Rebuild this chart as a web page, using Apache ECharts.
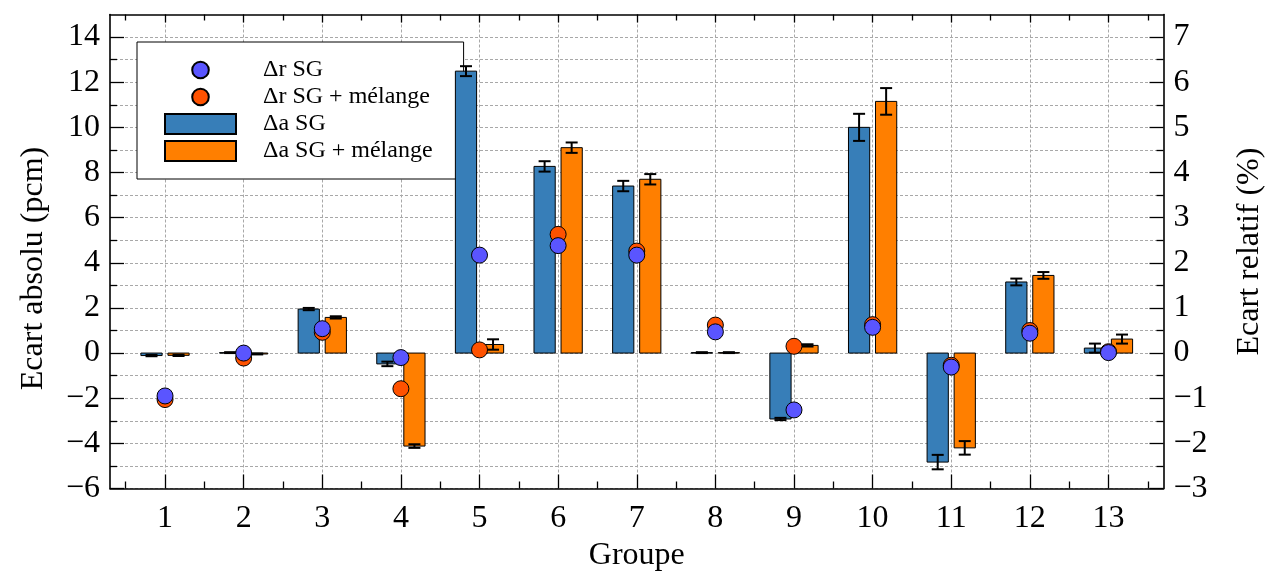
<!DOCTYPE html>
<html><head><meta charset="utf-8">
<script src="https://cdn.jsdelivr.net/npm/echarts@6/dist/echarts.min.js"></script>
<style>html,body{margin:0;padding:0;background:#fff}#c{width:1269px;height:571px}</style>
</head><body><div id="c"></div>
<script>
// ---- data ----
const groups = [1, 2, 3, 4, 5, 6, 7, 8, 9, 10, 11, 12, 13];
const absSG     = [-0.11, 0.02, 1.95, -0.48, 12.49, 8.27, 7.40, 0.02, -2.92, 10.00, -4.83, 3.15, 0.22];
const absSGErr  = [0.03, 0.02, 0.05, 0.10, 0.22, 0.23, 0.23, 0.02, 0.05, 0.60, 0.32, 0.15, 0.20];
const absMel    = [-0.10, -0.04, 1.58, -4.12, 0.38, 9.10, 7.70, 0.02, 0.34, 11.15, -4.20, 3.44, 0.62];
const absMelErr = [0.03, 0.02, 0.05, 0.08, 0.23, 0.23, 0.23, 0.02, 0.05, 0.59, 0.30, 0.15, 0.20];
const relSG     = [-0.95, 0.00, 0.54, -0.10, 2.17, 2.38, 2.17, 0.47, -1.26, 0.57, -0.31, 0.44, 0.01];
const relMel    = [-1.03, -0.11, 0.46, -0.79, 0.07, 2.63, 2.26, 0.62, 0.15, 0.63, -0.27, 0.50, 0.03];

const xMinor     = [0.5, 1.5, 2.5, 3.5, 4.5, 5.5, 6.5, 7.5, 8.5, 9.5, 10.5, 11.5, 12.5, 13.5];
const leftTicks  = [-6, -4, -2, 0, 2, 4, 6, 8, 10, 12, 14];
const leftMinor  = [-5, -3, -1, 1, 3, 5, 7, 9, 11, 13];
const rightTicks = [-3, -2, -1, 0, 1, 2, 3, 4, 5, 6, 7];
const rightMinor = [-2.5, -1.5, -0.5, 0.5, 1.5, 2.5, 3.5, 4.5, 5.5, 6.5];

// ---- style ----
const FONT = 'Liberation Serif';
const C_BAR_SG = '#377eb8', C_BAR_MEL = '#ff7f00';
const C_DOT_SG = '#5a55ff', C_DOT_MEL = '#ff5200';
const BAR_W = 0.27, BAR_OFF = 0.172;
const GRID_LINE = {show: true, lineStyle: {color: '#a8a8a8', type: [3, 2], width: 1}};
const AX_LINE = {show: true, onZero: false, lineStyle: {color: '#000', width: 1.6}};
const TXT = {fontFamily: FONT, fontSize: 32, color: '#000'};

function tickAxis(extra) {
  return Object.assign({
    type: 'value', axisLine: {show: false, onZero: false},
    axisLabel: {show: false}, splitLine: {show: false}
  }, extra);
}

function barRenderer(offset, fill) {
  return function (params, api) {
    const x = api.value(0), v = api.value(1), e = api.value(2);
    const a = api.coord([x + offset - BAR_W / 2, v]);
    const b = api.coord([x + offset + BAR_W / 2, 0]);
    const top = api.coord([x + offset, v + e]);
    const bot = api.coord([x + offset, v - e]);
    const cap = 6;
    return {
      type: 'group',
      children: [
        {type: 'rect', shape: {x: a[0], y: Math.min(a[1], b[1]), width: b[0] - a[0], height: Math.max(Math.abs(b[1] - a[1]), 0.5)},
         style: {fill: fill, stroke: '#000', lineWidth: 1}},
        {type: 'line', shape: {x1: top[0], y1: top[1], x2: bot[0], y2: bot[1]}, style: {stroke: '#000', lineWidth: 2}},
        {type: 'line', shape: {x1: top[0] - cap, y1: top[1], x2: top[0] + cap, y2: top[1]}, style: {stroke: '#000', lineWidth: 2}},
        {type: 'line', shape: {x1: bot[0] - cap, y1: bot[1], x2: bot[0] + cap, y2: bot[1]}, style: {stroke: '#000', lineWidth: 2}}
      ]
    };
  };
}

const dotIcon = 'path://M0,0 M20,20 M18.3,10 A8.3,8.3 0 1 1 1.7,10 A8.3,8.3 0 1 1 18.3,10 Z';

const option = {
  backgroundColor: '#fff',
  animation: false,
  grid: {left: 110, right: 105.5, top: 14.5, bottom: 82.5, containLabel: false, outerBoundsMode: 'none'},
  legend: {
    orient: 'vertical', left: 137, top: 42, z: 1,
    data: [
      {name: 'Δr SG', icon: dotIcon},
      {name: 'Δr SG + mélange', icon: dotIcon},
      {name: 'Δa SG', icon: 'rect'},
      {name: 'Δa SG + mélange', icon: 'rect'}
    ],
    itemWidth: 71, itemHeight: 20, itemGap: 3,
    padding: [16, 31, 16, 27],
    borderColor: '#000', borderWidth: 1, borderRadius: 0, backgroundColor: '#fff',
    textStyle: {fontFamily: FONT, fontSize: 24, color: '#000', lineHeight: 24, padding: [0, 0, 0, 22]},
    selectedMode: false
  },
  xAxis: [
    {type: 'value', min: 0.3, max: 13.7, position: 'bottom', axisLine: AX_LINE,
     axisTick: {show: true, inside: true, length: 14, customValues: groups, lineStyle: {color: '#000', width: 1.3}},
     axisLabel: Object.assign({customValues: groups, margin: 14}, TXT),
     splitLine: GRID_LINE,
     name: 'Groupe', nameLocation: 'middle', nameGap: 48, nameTextStyle: TXT},
    tickAxis({min: 0.3, max: 13.7, position: 'bottom',
     axisTick: {show: true, inside: true, length: 7, customValues: xMinor, lineStyle: {color: '#000', width: 1.3}}}),
    tickAxis({min: 0.3, max: 13.7, position: 'top', axisLine: AX_LINE,
     axisTick: {show: true, inside: true, length: 8, customValues: groups, lineStyle: {color: '#000', width: 1.3}}}),
    tickAxis({min: 0.3, max: 13.7, position: 'top',
     axisTick: {show: true, inside: true, length: 6, customValues: xMinor, lineStyle: {color: '#000', width: 1.3}}})
  ],
  yAxis: [
    {type: 'value', min: -6, max: 15, position: 'left', axisLine: AX_LINE,
     axisTick: {show: true, inside: true, length: 14, customValues: leftTicks, lineStyle: {color: '#000', width: 1.3}},
     axisLabel: Object.assign({customValues: leftTicks, margin: 10,
       formatter: v => (v < 0 ? '\u2212' + Math.abs(v) : String(v))}, TXT),
     splitLine: GRID_LINE,
     name: 'Ecart absolu (pcm)', nameLocation: 'middle', nameGap: 60, nameRotate: 90,
     nameTextStyle: Object.assign({padding: [0, 34, 0, 0]}, TXT)},
    tickAxis({min: -6, max: 15, position: 'left',
     axisTick: {show: true, inside: true, length: 7, customValues: leftMinor, lineStyle: {color: '#000', width: 1.3}},
     splitLine: GRID_LINE}),
    {type: 'value', min: -3, max: 7.5, position: 'right', axisLine: AX_LINE,
     axisTick: {show: true, inside: true, length: 14, customValues: rightTicks, lineStyle: {color: '#000', width: 1.3}},
     axisLabel: Object.assign({customValues: rightTicks, margin: 10,
       formatter: v => (v < 0 ? '\u2212' + Math.abs(v) : String(v))}, TXT),
     splitLine: {show: false},
     name: 'Ecart relatif (%)', nameLocation: 'middle', nameGap: 70, nameRotate: 90, nameTextStyle: TXT},
    tickAxis({min: -3, max: 7.5, position: 'right',
     axisTick: {show: true, inside: true, length: 7, customValues: rightMinor, lineStyle: {color: '#000', width: 1.3}}})
  ],
  series: [
    {name: 'Δa SG', type: 'custom', xAxisIndex: 0, yAxisIndex: 0, z: 3,
     itemStyle: {color: C_BAR_SG, borderColor: '#000', borderWidth: 1},
     renderItem: barRenderer(-BAR_OFF, C_BAR_SG),
     data: groups.map((g, i) => [g, absSG[i], absSGErr[i]])},
    {name: 'Δa SG + mélange', type: 'custom', xAxisIndex: 0, yAxisIndex: 0, z: 3,
     itemStyle: {color: C_BAR_MEL, borderColor: '#000', borderWidth: 1},
     renderItem: barRenderer(BAR_OFF, C_BAR_MEL),
     data: groups.map((g, i) => [g, absMel[i], absMelErr[i]])},
    {name: 'Δr SG + mélange', type: 'scatter', xAxisIndex: 0, yAxisIndex: 2, symbolSize: 16, z: 4,
     itemStyle: {color: C_DOT_MEL, borderColor: '#000', borderWidth: 1, opacity: 1},
     data: groups.map((g, i) => [g, relMel[i]])},
    {name: 'Δr SG', type: 'scatter', xAxisIndex: 0, yAxisIndex: 2, symbolSize: 16, z: 5,
     itemStyle: {color: C_DOT_SG, borderColor: '#000', borderWidth: 1, opacity: 1},
     data: groups.map((g, i) => [g, relSG[i]])}
  ]
};

const chart = echarts.init(document.getElementById('c'), null, {renderer: 'canvas'});
chart.setOption(option);
</script>
</body></html>
